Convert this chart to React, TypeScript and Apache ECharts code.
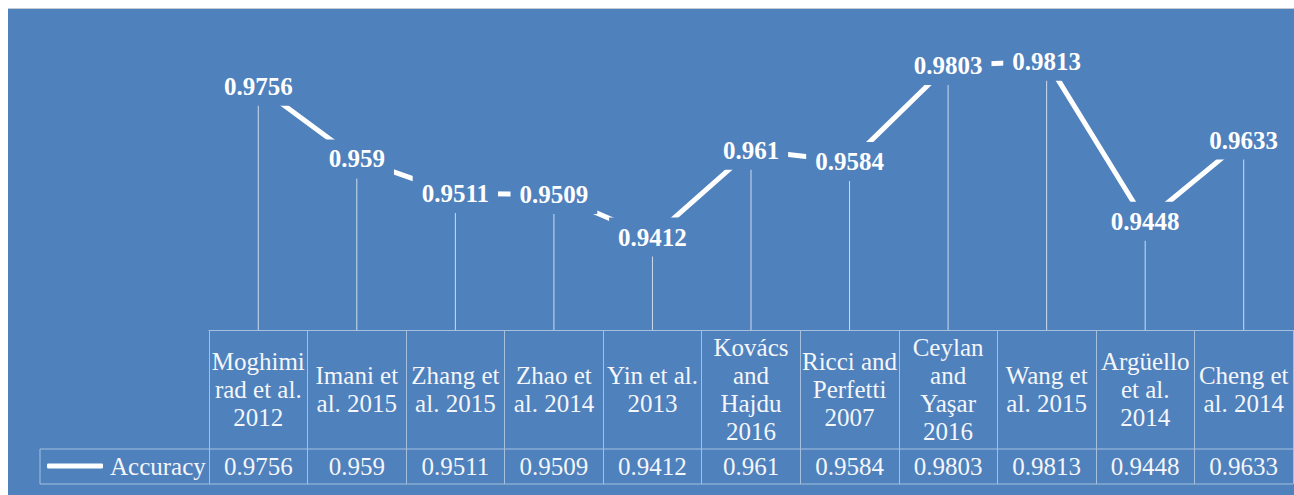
import { useEffect, useRef } from "react";
import * as echarts from "echarts";

// Studies compared (header row of the data table)
const studies = [
  "Moghimi\nrad et al.\n2012",
  "Imani et\nal. 2015",
  "Zhang et\nal. 2015",
  "Zhao et\nal. 2014",
  "Yin et al.\n2013",
  "Kovács\nand\nHajdu\n2016",
  "Ricci and\nPerfetti\n2007",
  "Ceylan\nand\nYaşar\n2016",
  "Wang et\nal. 2015",
  "Argüello\net al.\n2014",
  "Cheng et\nal. 2014",
];

// Reported accuracy for each study
const accuracy = [0.9756, 0.959, 0.9511, 0.9509, 0.9412, 0.961, 0.9584, 0.9803, 0.9813, 0.9448, 0.9633];

const seriesName = "Accuracy";
const yMin = 0.92;
const yMax = 0.99;

const BG = "#4F81BD";
const BORDER = "#a6bfdf";
const TEXT = "#f4f6fa";
const FONT = "'Liberation Serif', 'Times New Roman', serif";

export default function App() {
  const ref = useRef<HTMLDivElement>(null);

  useEffect(() => {
    if (!ref.current) return;
    const chart = echarts.init(ref.current, null, { renderer: "svg" });

    const tableLeft = 32;
    const tableRight = 1285;
    const rowTop = 440;
    const rowBottom = 475;

    chart.setOption({
      animation: false,
      backgroundColor: BG,
      grid: { left: 201, right: 1, top: 14, bottom: 165, containLabel: false },
      legend: {
        data: [seriesName],
        left: 39,
        top: 443,
        padding: 0,
        icon: "roundRect",
        itemWidth: 56,
        itemHeight: 5,
        itemGap: 0,
        itemStyle: { color: "#ffffff" },
        textStyle: { color: TEXT, fontFamily: FONT, fontSize: 25, lineHeight: 28, padding: [0, 0, 0, 2] },
        selectedMode: false,
      },
      xAxis: [
        {
          type: "category",
          data: studies,
          boundaryGap: true,
          axisLine: { show: true, lineStyle: { color: BORDER, width: 1 } },
          axisTick: { show: true, length: rowBottom - 321, lineStyle: { color: BORDER, width: 1 } },
          axisLabel: {
            interval: 0,
            margin: 59.5,
            verticalAlign: "middle",
            color: TEXT,
            fontFamily: FONT,
            fontSize: 25,
            lineHeight: 28,
          },
          splitLine: { show: false },
        },
        {
          type: "category",
          data: studies,
          position: "bottom",
          boundaryGap: true,
          axisLine: { show: false },
          axisTick: { show: false },
          axisLabel: {
            interval: 0,
            margin: 136.5,
            verticalAlign: "middle",
            color: TEXT,
            fontFamily: FONT,
            fontSize: 25,
            formatter: (_v: string, i: number) => String(accuracy[i]),
          },
        },
      ],
      yAxis: {
        type: "value",
        min: yMin,
        max: yMax,
        show: false,
        splitLine: { show: false },
      },
      graphic: [
        {
          type: "line",
          shape: { x1: tableLeft, y1: rowTop, x2: tableRight, y2: rowTop },
          style: { stroke: BORDER, lineWidth: 1 },
        },
        {
          type: "line",
          shape: { x1: tableLeft, y1: rowBottom, x2: tableRight, y2: rowBottom },
          style: { stroke: BORDER, lineWidth: 1 },
        },
        {
          type: "line",
          shape: { x1: tableLeft, y1: rowTop, x2: tableLeft, y2: rowBottom },
          style: { stroke: BORDER, lineWidth: 1 },
        },
      ],
      series: [
        {
          // drop lines from each point to the table
          type: "bar",
          z: 1,
          xAxisIndex: 0,
          data: accuracy,
          barWidth: 1,
          itemStyle: { color: "rgba(255,255,255,0.72)" },
          silent: true,
          legendHoverLink: false,
        },
        {
          name: seriesName,
          type: "line",
          z: 3,
          xAxisIndex: 0,
          data: accuracy,
          symbol: "circle",
          symbolSize: 1,
          itemStyle: { color: "#ffffff" },
          lineStyle: { color: "#ffffff", width: 5 },
          label: {
            show: true,
            position: "inside",
            color: "#ffffff",
            fontFamily: FONT,
            fontSize: 25,
            fontWeight: "bold",
            backgroundColor: BG,
            padding: [7, 9],
          },
        },
      ],
    });

    return () => chart.dispose();
  }, []);

  return (
    <div style={{ position: "absolute", left: 8, top: 8, width: 1286, borderTop: "1px solid #c5c9d2" }}>
      <div ref={ref} style={{ width: 1286, height: 486 }} />
    </div>
  );
}
